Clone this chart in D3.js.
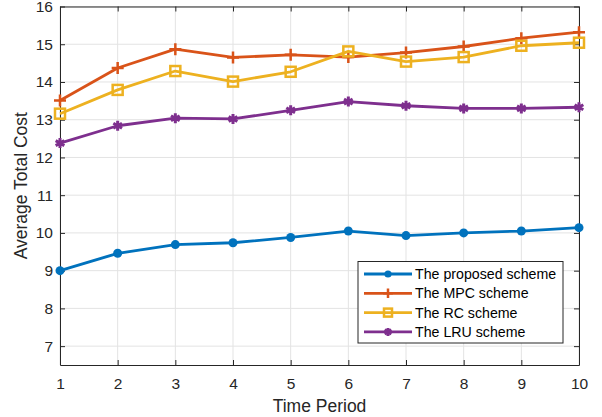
<!DOCTYPE html>
<html>
<head>
<meta charset="utf-8">
<script src="https://cdn.jsdelivr.net/npm/d3@7"></script>
<style>
  body { margin: 0; background: #fff; }
  svg { font-family: "Liberation Sans", Arial, sans-serif; }
</style>
</head>
<body>
<div id="container"></div>
<script>
const periods = [1, 2, 3, 4, 5, 6, 7, 8, 9, 10];
const proposed = [9.0, 9.46, 9.69, 9.74, 9.88, 10.05, 9.93, 10.0, 10.05, 10.14];
const mpc = [13.51, 14.37, 14.87, 14.65, 14.72, 14.66, 14.78, 14.94, 15.16, 15.32];
const rc = [13.16, 13.79, 14.29, 14.01, 14.27, 14.81, 14.54, 14.66, 14.96, 15.04];
const lru = [12.38, 12.84, 13.04, 13.02, 13.25, 13.48, 13.37, 13.30, 13.30, 13.33];
const yTicks = [7, 8, 9, 10, 11, 12, 13, 14, 15, 16];
const seriesNames = ["The proposed scheme", "The MPC scheme", "The RC scheme", "The LRU scheme"];

const margin = {top: 6.5, right: 23, bottom: 52, left: 60},
      W = 602, H = 417,
      width = W - margin.left - margin.right,
      height = H - margin.top - margin.bottom;

const svg = d3.select("#container").append("svg")
    .attr("width", W).attr("height", H)
  .append("g")
    .attr("transform", `translate(${margin.left},${margin.top})`);

const x = d3.scaleLinear().domain([1, 10]).range([0, width]);
const y = d3.scaleLinear().domain([6.5, 16]).range([height, 0]);

// grid
svg.append("g").selectAll("line").data(periods).join("line")
  .attr("x1", d => x(d)).attr("x2", d => x(d))
  .attr("y1", 0).attr("y2", height)
  .attr("stroke", "#e3e3e3").attr("stroke-width", 1);
svg.append("g").selectAll("line").data(yTicks).join("line")
  .attr("x1", 0).attr("x2", width)
  .attr("y1", d => y(d)).attr("y2", d => y(d))
  .attr("stroke", "#e3e3e3").attr("stroke-width", 1);

// axes (box with inward ticks)
const axisColor = "#262626";
function styleAxis(g, showText) {
  g.select(".domain").attr("stroke", axisColor).attr("stroke-width", 1);
  g.selectAll(".tick line").attr("stroke", axisColor);
  g.selectAll(".tick text").attr("fill", axisColor).style("font-size", "15.5px")
    .style("font-family", "Liberation Sans, Arial, sans-serif");
  if (!showText) g.selectAll(".tick text").remove();
}
svg.append("g").attr("transform", `translate(0,${height})`)
  .call(d3.axisBottom(x).tickValues(periods).tickSize(-5).tickPadding(13).tickSizeOuter(0))
  .call(g => styleAxis(g, true));
svg.append("g")
  .call(d3.axisTop(x).tickValues(periods).tickSize(-5).tickSizeOuter(0))
  .call(g => styleAxis(g, false));
svg.append("g")
  .call(d3.axisLeft(y).tickValues(yTicks).tickSize(-5).tickPadding(7).tickSizeOuter(0))
  .call(g => styleAxis(g, true));
svg.append("g").attr("transform", `translate(${width},0)`)
  .call(d3.axisRight(y).tickValues(yTicks).tickSize(-5).tickSizeOuter(0))
  .call(g => styleAxis(g, false));

// labels
svg.append("text")
  .attr("x", width / 2).attr("y", height + 47)
  .attr("text-anchor", "middle").attr("fill", axisColor)
  .style("font-size", "17.5px").text("Time Period");
svg.append("text")
  .attr("transform", `translate(-33.5,${height / 2}) rotate(-90)`)
  .attr("text-anchor", "middle").attr("fill", axisColor)
  .style("font-size", "17.5px").text("Average Total Cost");

const colors = ["#0072BD", "#D95319", "#EDB120", "#7E2F8E"];
const allSeries = [proposed, mpc, rc, lru];
const markerTypes = ["circle", "plus", "square", "star"];

function drawMarker(g, type, color, cx, cy, scale) {
  const s = scale || 1;
  if (type === "circle") {
    g.append("circle").attr("cx", cx).attr("cy", cy).attr("r", 4.5 * s).attr("fill", color);
  } else if (type === "plus") {
    const r = 6 * s;
    g.append("path").attr("d", `M${cx - r},${cy}H${cx + r}M${cx},${cy - r}V${cy + r}`)
      .attr("stroke", color).attr("stroke-width", 2.5);
  } else if (type === "square") {
    const r = 5 * s;
    g.append("rect").attr("x", cx - r).attr("y", cy - r).attr("width", 2 * r).attr("height", 2 * r)
      .attr("fill", "none").attr("stroke", color).attr("stroke-width", 2.5);
  } else {
    const r = 5 * s;
    let d = "";
    for (let k = 0; k < 3; k++) {
      const a = Math.PI / 2 + k * Math.PI / 3;
      d += `M${cx - r * Math.cos(a)},${cy - r * Math.sin(a)}L${cx + r * Math.cos(a)},${cy + r * Math.sin(a)}`;
    }
    g.append("path").attr("d", d).attr("stroke", color).attr("stroke-width", 3);
  }
}

const line = d3.line().x((d, i) => x(periods[i])).y(d => y(d));

allSeries.forEach((vals, si) => {
  const g = svg.append("g");
  g.append("path").datum(vals).attr("d", line)
    .attr("fill", "none").attr("stroke", colors[si]).attr("stroke-width", 2.8)
    .attr("stroke-linejoin", "round");
  vals.forEach((v, i) => drawMarker(g, markerTypes[si], colors[si], x(periods[i]), y(v)));
});

// legend
const lg = svg.append("g").attr("transform", `translate(${358 - margin.left},${261.5 - margin.top})`);
lg.append("rect").attr("width", 205).attr("height", 81.5)
  .attr("fill", "#fff").attr("stroke", axisColor).attr("stroke-width", 1);
seriesNames.forEach((name, i) => {
  const yy = 12.5 + i * 19.3;
  lg.append("line").attr("x1", 6).attr("x2", 54).attr("y1", yy).attr("y2", yy)
    .attr("stroke", colors[i]).attr("stroke-width", 2.8);
  drawMarker(lg, markerTypes[i], colors[i], 30, yy, 0.8);
  lg.append("text").attr("x", 57).attr("y", yy).attr("dy", "0.35em")
    .attr("fill", "#000").style("font-size", "14.2px").text(name);
});
</script>
</body>
</html>
